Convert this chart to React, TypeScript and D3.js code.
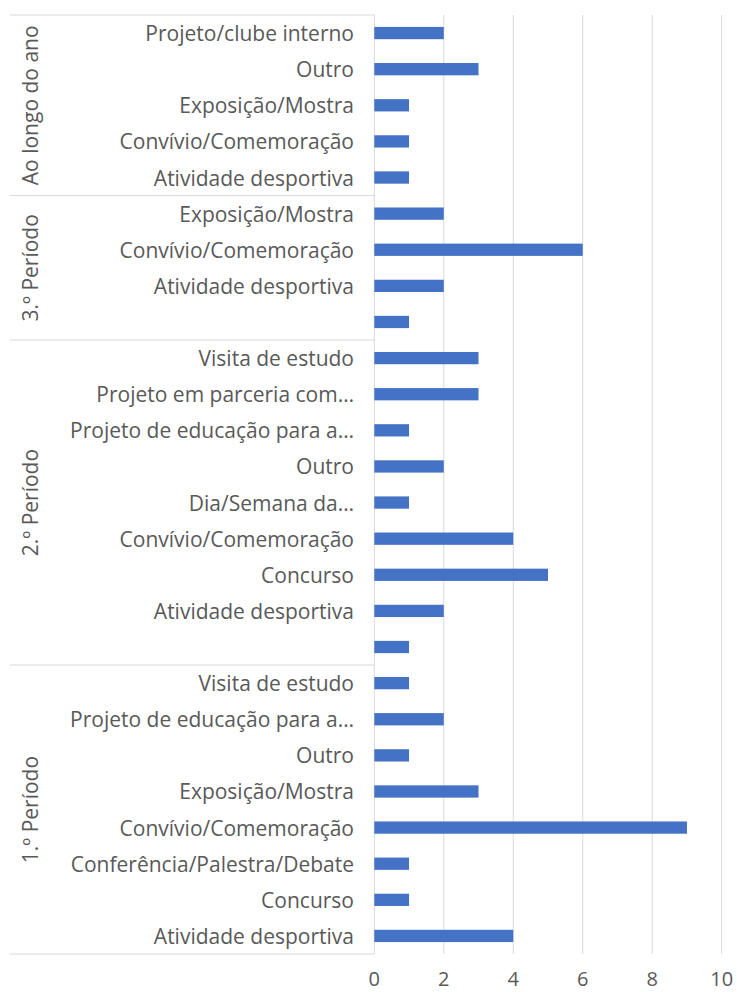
import React from "react";
import * as d3 from "d3";

const groups = ["Ao longo do ano", "3.º Período", "2.º Período", "1.º Período"];
const groupIndex = [0, 0, 0, 0, 0, 1, 1, 1, 1, 2, 2, 2, 2, 2, 2, 2, 2, 2, 3, 3, 3, 3, 3, 3, 3, 3];
const categories = [
  "Projeto/clube interno",
  "Outro",
  "Exposição/Mostra",
  "Convívio/Comemoração",
  "Atividade desportiva",
  "Exposição/Mostra",
  "Convívio/Comemoração",
  "Atividade desportiva",
  "",
  "Visita de estudo",
  "Projeto em parceria com…",
  "Projeto de educação para a…",
  "Outro",
  "Dia/Semana da…",
  "Convívio/Comemoração",
  "Concurso",
  "Atividade desportiva",
  "",
  "Visita de estudo",
  "Projeto de educação para a…",
  "Outro",
  "Exposição/Mostra",
  "Convívio/Comemoração",
  "Conferência/Palestra/Debate",
  "Concurso",
  "Atividade desportiva",
];
const values = [2, 3, 1, 1, 1, 2, 6, 2, 1, 3, 3, 1, 2, 1, 4, 5, 2, 1, 1, 2, 1, 3, 9, 1, 1, 4];
const xTicks = [0, 2, 4, 6, 8, 10];

const W = 737;
const H = 992;
const left = 374.3;
const right = 721.7;
const top = 15;
const bottom = 954;
const FONT = "'Open Sans', 'Noto Sans', sans-serif";
const TEXT = "#595959";
const GRID = "#d9d9d9";
const BAR = "#4472C4";

export default function App() {
  const keys = categories.map((_, i) => String(i));
  const y = d3.scaleBand<string>().domain(keys).range([top, bottom]).paddingInner(0.66).paddingOuter(0.33);
  const x = d3.scaleLinear().domain([0, 10]).range([left, right]);
  const step = y.step();
  const bandTop = (i: number) => top + i * step;

  const groupRanges = groups.map((g, gi) => {
    const idx = groupIndex.map((v, i) => (v === gi ? i : -1)).filter((i) => i >= 0);
    return { name: g, start: idx[0], end: idx[idx.length - 1] + 1 };
  });

  return (
    <svg
      width={W}
      height={H}
      style={{ position: "absolute", left: 0, top: 0, background: "#fff" }}
      fontFamily={FONT}
    >
      {xTicks.slice(1).map((t) => (
        <line key={t} x1={x(t)} x2={x(t)} y1={top} y2={bottom} stroke={GRID} strokeWidth={1} />
      ))}
      <line x1={left} x2={left} y1={top} y2={bottom} stroke={GRID} strokeWidth={1} />
      {groupRanges.map((g) => (
        <line key={"s" + g.name} x1={10} x2={left} y1={bandTop(g.start)} y2={bandTop(g.start)} stroke={GRID} strokeWidth={1} />
      ))}
      <line x1={10} x2={left} y1={bottom} y2={bottom} stroke={GRID} strokeWidth={1} />
      {values.map((v, i) => (
        <rect key={i} x={x(0)} y={y(String(i))} width={x(v) - x(0)} height={y.bandwidth()} fill={BAR} />
      ))}
      {categories.map((c, i) => (
        <text
          key={"c" + i}
          x={354}
          y={(y(String(i)) as number) + y.bandwidth() / 2}
          textAnchor="end"
          dominantBaseline="central"
          fontSize={21}
          fill={TEXT}
        >
          {c}
        </text>
      ))}
      {groupRanges.map((g) => {
        const cy = (bandTop(g.start) + bandTop(g.end)) / 2;
        return (
          <text
            key={"g" + g.name}
            transform={`translate(30,${cy}) rotate(-90)`}
            textAnchor="middle"
            dominantBaseline="central"
            fontSize={21}
            fill={TEXT}
          >
            {g.name}
          </text>
        );
      })}
      {xTicks.map((t) => (
        <text key={"t" + t} x={x(t)} y={978} textAnchor="middle" dominantBaseline="central" fontSize={20} fill={TEXT}>
          {t}
        </text>
      ))}
    </svg>
  );
}
